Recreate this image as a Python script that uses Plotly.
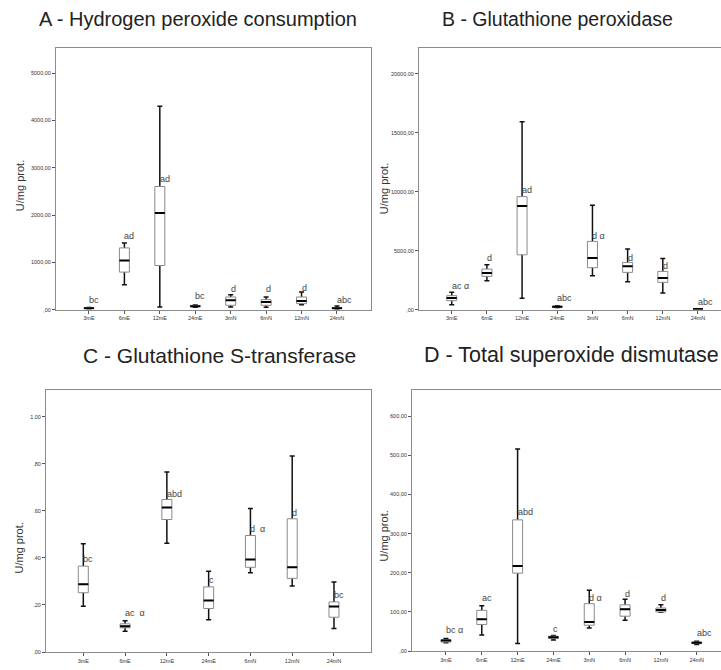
import plotly.graph_objects as go

W, H = 721, 670

cats8 = ["3mE", "6mE", "12mE", "24mE", "3mN", "6mN", "12mN", "24mN"]
cats7 = ["3mE", "6mE", "12mE", "24mE", "6mN", "12mN", "24mN"]

# A - Hydrogen peroxide consumption
a_lo = [12, 526, 57, 50, 57, 49, 105, 10]
a_q1 = [22, 793, 933, 62, 91, 91, 126, 20]
a_med = [30, 1038, 2042, 72, 196, 161, 182, 30]
a_q3 = [38, 1305, 2604, 88, 267, 210, 267, 40]
a_hi = [45, 1410, 4302, 100, 316, 267, 372, 75]
a_lab = ["bc", "ad", "ad", "bc", "d", "d", "d", "abc"]
a_lab_y = [196, 1551, 2772, 280, 428, 428, 456, 196]

# B - Glutathione peroxidase
b_lo = [422, 2450, 962, 170, 2872, 2365, 1408, 20]
b_q1 = [760, 2819, 4645, 220, 3550, 3155, 2310, 35]
b_med = [985, 3097, 8784, 250, 4370, 3665, 2677, 50]
b_q3 = [1182, 3435, 9578, 290, 5780, 4000, 3240, 65]
b_hi = [1464, 3800, 15913, 330, 8843, 5127, 4341, 80]
b_lab = ["ac α", "d", "ad", "abc", "d α", "d", "d", "abc"]
b_lab_y = [1976, 4341, 10110, 960, 6200, 4366, 3665, 625]

# C - Glutathione S-transferase
c_lo = [0.195, 0.088, 0.462, 0.137, 0.337, 0.281, 0.100]
c_q1 = [0.252, 0.103, 0.563, 0.185, 0.360, 0.313, 0.148]
c_med = [0.288, 0.110, 0.614, 0.219, 0.393, 0.360, 0.193]
c_q3 = [0.365, 0.120, 0.648, 0.277, 0.495, 0.566, 0.213]
c_hi = [0.460, 0.133, 0.765, 0.343, 0.610, 0.833, 0.298]
c_lab = ["bc", "ac  α", "abd", "c", "d  α", "d", "bc"]
c_lab_y = [0.394, 0.166, 0.673, 0.308, 0.523, 0.589, 0.242]

# D - Total superoxide dismutase
d_lo = [21, 41, 19.5, 28, 59, 79, 99, 17]
d_q1 = [23, 68, 199, 32, 66, 89, 100, 19]
d_med = [27, 81, 217, 35, 74, 107, 105, 21]
d_q3 = [29, 104, 335, 38, 121, 118, 110, 23]
d_hi = [32, 116, 516, 40, 155, 132, 118, 25]
d_lab = ["bc α", "ac", "abd", "c", "d α", "d", "d", "abc"]
d_lab_y = [53, 135, 354, 57.5, 136, 146, 136, 45]

a_ticks = [0, 1000, 2000, 3000, 4000, 5000]
a_ticktext = [",00", "1000,00", "2000,00", "3000,00", "4000,00", "5000,00"]
b_ticks = [0, 5000, 10000, 15000, 20000]
b_ticktext = [",00", "5000,00", "10000,00", "15000,00", "20000,00"]
c_ticks = [0, 0.2, 0.4, 0.6, 0.8, 1.0]
c_ticktext = [".00", ".20", ".40", ".60", ".80", "1.00"]
d_ticks = [0, 100, 200, 300, 400, 500, 600]
d_ticktext = [",00", "100,00", "200,00", "300,00", "400,00", "500,00", "600,00"]

titles = ["A - Hydrogen peroxide consumption", "B - Glutathione peroxidase",
          "C - Glutathione S-transferase", "D - Total superoxide dismutase"]
ytitle = "U/mg prot."

FONT = "Liberation Sans"
FRAME = "#8c8c8c"

panels = [
    dict(cats=cats8, lo=a_lo, q1=a_q1, med=a_med, q3=a_q3, hi=a_hi, lab=a_lab, laby=a_lab_y,
         ticks=a_ticks, ticktext=a_ticktext, yr=[0, 5537], px=(56, 371, 48, 311), xr=[-0.93, 7.96],
         full=True, title=titles[0], tpos=(198, 19), tsize=20, ypos=(20, 187)),
    dict(cats=cats8, lo=b_lo, q1=b_q1, med=b_med, q3=b_q3, hi=b_hi, lab=b_lab, laby=b_lab_y,
         ticks=b_ticks, ticktext=b_ticktext, yr=[0, 22190], px=(419, 721, 48, 311), xr=[-0.93, 7.654],
         full=False, title=titles[1], tpos=(557, 19), tsize=19.5, ypos=(384, 190)),
    dict(cats=cats7, lo=c_lo, q1=c_q1, med=c_med, q3=c_q3, hi=c_hi, lab=c_lab, laby=c_lab_y,
         ticks=c_ticks, ticktext=c_ticktext, yr=[0, 1.112], px=(46, 371, 392, 655), xr=[-0.893, 6.886],
         full=True, title=titles[2], tpos=(220, 357), tsize=21, ypos=(19, 551)),
    dict(cats=cats8, lo=d_lo, q1=d_q1, med=d_med, q3=d_q3, hi=d_hi, lab=d_lab, laby=d_lab_y,
         ticks=d_ticks, ticktext=d_ticktext, yr=[0, 666], px=(412, 721, 392, 654), xr=[-0.948, 7.678],
         full=False, title=titles[3], tpos=(571, 357), tsize=21.5, ypos=(384, 539)),
]

fig = go.Figure()
annotations = []
layout = {}

for i, p in enumerate(panels):
    n = i + 1
    xa = "x" if n == 1 else f"x{n}"
    ya = "y" if n == 1 else f"y{n}"
    left, right, top, bottom = p["px"]
    spacing_px = (right - left) / (p["xr"][1] - p["xr"][0])
    bw = 10.0 / spacing_px
    idx = list(range(len(p["cats"])))

    fig.add_trace(go.Box(x=idx, q1=p["med"], median=p["med"], q3=p["med"],
                         lowerfence=p["lo"], upperfence=p["hi"], width=bw, whiskerwidth=0.5,
                         line=dict(color="#111111", width=1.5), fillcolor="rgba(0,0,0,0)",
                         boxpoints=False, hoverinfo="skip", showlegend=False, xaxis=xa, yaxis=ya))
    fig.add_trace(go.Box(x=idx, q1=p["q1"], median=p["med"], q3=p["q3"],
                         lowerfence=p["q1"], upperfence=p["q3"], width=bw, whiskerwidth=0,
                         line=dict(color="#8a8a8a", width=1), fillcolor="white",
                         boxpoints=False, hoverinfo="skip", showlegend=False, xaxis=xa, yaxis=ya))
    fig.add_trace(go.Box(x=idx, q1=p["med"], median=p["med"], q3=p["med"],
                         lowerfence=p["med"], upperfence=p["med"], width=bw, whiskerwidth=0,
                         line=dict(color="#000000", width=2), fillcolor="rgba(0,0,0,0)",
                         boxpoints=False, hoverinfo="skip", showlegend=False, xaxis=xa, yaxis=ya))

    xkey = "xaxis" if n == 1 else f"xaxis{n}"
    ykey = "yaxis" if n == 1 else f"yaxis{n}"
    layout[xkey] = dict(domain=[left / W, min(right / W, 1.0)], anchor=ya, range=p["xr"],
                        tickmode="array", tickvals=idx, ticktext=p["cats"],
                        showgrid=False, zeroline=False, showline=True, linecolor=FRAME, linewidth=1,
                        mirror=True, ticks="outside", ticklen=3, tickcolor="#555", tickwidth=1,
                        tickfont=dict(family=FONT, size=5.5, color="#333"), fixedrange=True)
    layout[ykey] = dict(domain=[1 - bottom / H, 1 - top / H], anchor=xa, range=p["yr"],
                        tickmode="array", tickvals=p["ticks"], ticktext=p["ticktext"],
                        showgrid=False, zeroline=False, showline=True, linecolor=FRAME, linewidth=1,
                        mirror=p["full"], ticks="outside", ticklen=3, tickcolor="#555", tickwidth=1,
                        tickfont=dict(family=FONT, size=5.5, color="#333"), fixedrange=True)

    for j, (t, yv) in enumerate(zip(p["lab"], p["laby"])):
        annotations.append(dict(x=j, y=yv, xref=xa, yref=ya, text=t, showarrow=False,
                                xanchor="left", yanchor="middle", xshift=-2,
                                font=dict(family=FONT, size=9, color="#444")))
    annotations.append(dict(x=p["tpos"][0] / W, y=1 - p["tpos"][1] / H, xref="paper", yref="paper",
                            text=p["title"], showarrow=False, xanchor="center", yanchor="middle",
                            font=dict(family=FONT, size=p["tsize"], color="#222")))
    annotations.append(dict(x=p["ypos"][0] / W, y=1 - p["ypos"][1] / H, xref="paper", yref="paper",
                            text=ytitle, showarrow=False, textangle=-90, xanchor="center", yanchor="middle",
                            font=dict(family=FONT, size=11, color="#333")))

fig.update_layout(width=W, height=H, margin=dict(l=0, r=0, t=0, b=0),
                  paper_bgcolor="white", plot_bgcolor="white", boxmode="overlay",
                  showlegend=False, annotations=annotations, **layout)

fig.write_html("out.html", config={"displayModeBar": False, "staticPlot": True},
               post_script="document.body.style.margin='0px';document.body.style.overflow='hidden';")
